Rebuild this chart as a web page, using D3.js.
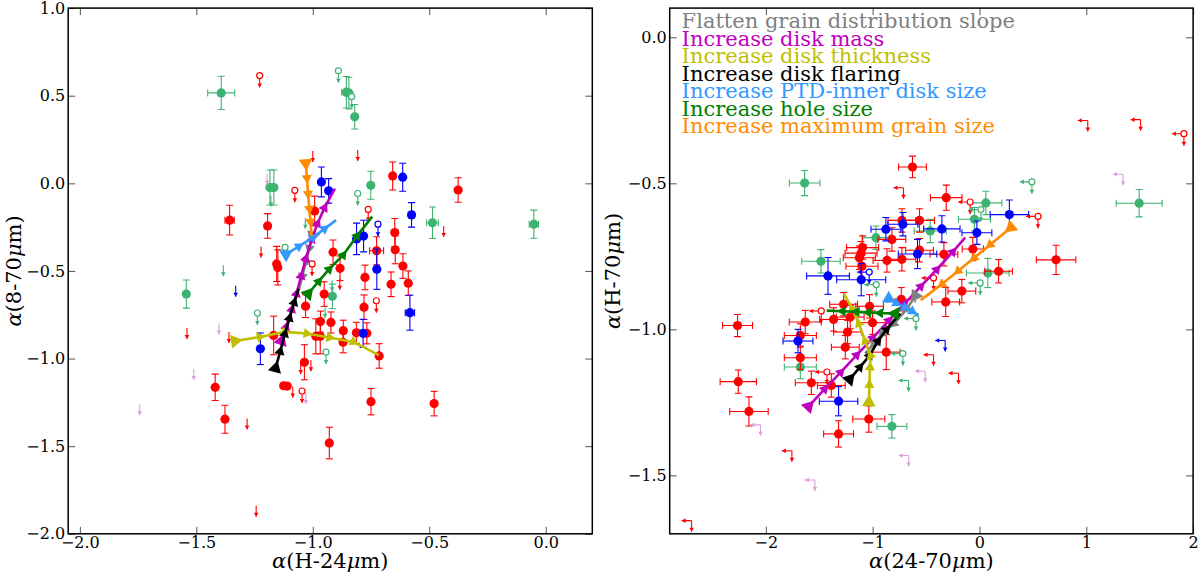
<!DOCTYPE html>
<html>
<head>
<meta charset="utf-8">
<script src="https://cdn.jsdelivr.net/npm/d3@7"></script>
<style>
  body { margin: 0; background: #fff; }
  text { font-family: "DejaVu Serif", serif; }
</style>
</head>
<body>
<div id="chart"></div>
<script>
// ---------- left panel: alpha(H-24) vs alpha(8-70) ----------
// [x, y, xerr, yerr]
const leftRed = [
  [-0.657, 0.042, 0, 0.08], [-0.376, -0.038, 0, 0.07], [-1.357, -0.21, 0.02, 0.085],
  [-1.194, -0.243, 0, 0.07], [-0.992, -0.158, 0, 0.085], [-0.648, -0.281, 0, 0.08],
  [-0.646, -0.379, 0, 0.08], [-0.913, -0.393, 0, 0.07], [-1.155, -0.46, 0, 0.1],
  [-1.15, -0.48, 0, 0.1], [-0.883, -0.485, 0, 0.07], [-0.613, -0.472, 0, 0.07],
  [-0.776, -0.537, 0, 0.07], [-0.664, -0.576, 0, 0.07], [-0.59, -0.57, 0, 0.07],
  [-0.951, -0.632, 0, 0.07], [-0.78, -0.707, 0, 0.07], [-1.031, -0.701, 0, 0.065],
  [-0.967, -0.789, 0, 0.06], [-0.922, -0.794, 0, 0.06], [-0.869, -0.841, 0, 0.06],
  [-0.813, -0.853, 0, 0.06], [-0.768, -0.856, 0, 0.06], [-1.168, -0.868, 0, 0.11],
  [-0.987, -0.873, 0, 0.1], [-0.968, -0.873, 0, 0.1], [-0.87, -0.907, 0, 0.06],
  [-0.715, -0.985, 0, 0.07], [-1.036, -1.021, 0, 0.1], [-1.125, -1.155, 0, 0],
  [-1.11, -1.157, 0, 0], [-1.419, -1.164, 0, 0.075], [-1.377, -1.346, 0, 0.08],
  [-0.75, -1.246, 0, 0.075], [-0.479, -1.257, 0, 0.07], [-0.929, -1.482, 0, 0.09],
  [-0.726, -0.385, 0.03, 0.08]
];
const leftBlue = [
  [-0.963, 0.008, 0, 0.085], [-0.932, -0.043, 0, 0.07], [-0.614, 0.035, 0, 0.08],
  [-0.576, -0.18, 0, 0.07], [-0.812, -0.317, 0, 0.09], [-0.782, -0.301, 0, 0.09],
  [-0.725, -0.49, 0, 0.115], [-0.583, -0.738, 0.02, 0.1], [-1.225, -0.944, 0, 0.09],
  [-0.784, -0.856, 0, 0.08]
];
const leftGreen = [
  [-1.393, 0.516, 0.058, 0.095], [-0.856, 0.52, 0.02, 0.09], [-0.845, 0.515, 0, 0.09],
  [-0.82, 0.38, 0, 0.07], [-1.184, -0.024, 0, 0.1], [-1.167, -0.024, 0, 0.1],
  [-0.751, -0.011, 0, 0.08], [-0.486, -0.225, 0.025, 0.09], [-0.051, -0.233, 0.02, 0.08],
  [-1.543, -0.632, 0, 0.08], [-0.916, -0.645, 0, 0.07]
];
// open circles with an upper-limit arrow: [group, x, y]
const leftOpenLimits = [
  ["red", -1.228, 0.615], ["red", -1.077, -0.04], ["red", -0.762, -0.149],
  ["red", -1.003, -0.46], ["red", -0.727, -0.67], ["red", -1.046, -1.185],
  ["green", -0.89, 0.642], ["green", -0.833, 0.495], ["green", -0.807, -0.058],
  ["green", -1.119, -0.366], ["green", -1.238, -0.74], ["green", -0.943, -0.963],
  ["blue", -0.72, -0.233]
];
// plain upper-limit arrows: [group, x, y]
const leftArrowLimits = [
  ["red", -1.0, 0.185], ["red", -0.807, 0.19], ["red", -0.438, -0.243],
  ["red", -1.222, -0.36], ["red", -1.54, -0.825], ["red", -1.36, -0.848],
  ["red", -0.884, -0.545], ["red", -1.282, -1.342], ["red", -1.243, -1.84],
  ["red", -1.086, -1.16], ["red", -1.052, -1.025], ["red", -1.008, -1.01],
  ["green", -1.384, -0.467], ["green", -1.032, -0.197], ["green", -0.917, -0.553],
  ["green", -0.947, -0.705], ["green", -1.18, -0.07],
  ["blue", -1.331, -0.584],
  ["plum", -1.196, 0.055], ["plum", -1.403, -0.8], ["plum", -1.511, -1.06],
  ["plum", -1.743, -1.26], ["plum", -1.03, -1.196]
];
// model tracks, first point is the starting model
const leftTracks = [
  ["gray", [[-1.0, -0.3], [-1.015, -0.37], [-1.03, -0.45], [-1.045, -0.53], [-1.058, -0.6]]],
  ["magenta", [[-1.135, -0.9], [-1.115, -0.82], [-1.09, -0.72], [-1.07, -0.63], [-1.05, -0.53],
    [-1.03, -0.43], [-1.005, -0.32], [-0.98, -0.23], [-0.95, -0.14], [-0.905, -0.03]]],
  ["yellow", [[-1.334, -0.9], [-1.227, -0.877], [-1.12, -0.848], [-1.026, -0.857],
    [-0.928, -0.88], [-0.826, -0.905], [-0.716, -0.98]]],
  ["black", [[-1.16, -1.055], [-1.14, -0.96], [-1.12, -0.86], [-1.1, -0.77], [-1.08, -0.68], [-1.06, -0.6]]],
  ["ptd", [[-1.115, -0.405], [-1.06, -0.36], [-1.0, -0.31], [-0.95, -0.26], [-0.9, -0.21]]],
  ["hole", [[-1.02, -0.63], [-0.975, -0.56], [-0.93, -0.49], [-0.87, -0.41], [-0.81, -0.3], [-0.745, -0.19]]],
  ["orange", [[-1.03, 0.115], [-1.025, 0.03], [-1.02, -0.06], [-1.015, -0.145], [-1.01, -0.22], [-1.005, -0.3]]]
];

// ---------- right panel: alpha(24-70) vs alpha(H-70) ----------
const rightRed = [
  [-0.627, -0.444, 0.13, 0.037], [-0.311, -0.549, 0.148, 0.043], [0.717, -0.762, 0.185, 0.05],
  [0.179, -0.801, 0.13, 0.04], [-2.265, -0.987, 0.14, 0.038], [-2.258, -1.179, 0.17, 0.04],
  [-2.158, -1.281, 0.18, 0.05], [-1.319, -1.358, 0.14, 0.045], [-1.036, -1.307, 0.15, 0.045],
  [-0.726, -0.627, 0.13, 0.04], [-0.561, -0.627, 0.14, 0.04], [-0.82, -0.692, 0.13, 0.04],
  [-1.094, -0.72, 0.15, 0.04], [-1.109, -0.739, 0.15, 0.04], [-1.125, -0.755, 0.15, 0.04],
  [-1.1, -0.784, 0.15, 0.04], [-0.062, -0.725, 0.1, 0.04], [-0.561, -0.729, 0.13, 0.04],
  [-0.333, -0.743, 0.13, 0.04], [-0.726, -0.76, 0.13, 0.04], [-0.866, -0.764, 0.13, 0.04],
  [-0.165, -0.869, 0.13, 0.04], [-0.316, -0.906, 0.13, 0.05], [-0.732, -0.897, 0.13, 0.04],
  [-1.029, -0.921, 0.13, 0.04], [-1.272, -0.914, 0.13, 0.04], [-1.366, -0.966, 0.13, 0.04],
  [-1.631, -0.975, 0.15, 0.04], [-1.21, -0.958, 0.13, 0.04], [-1.001, -0.977, 0.13, 0.04],
  [-1.235, -1.009, 0.13, 0.04], [-1.677, -1.021, 0.15, 0.04], [-1.256, -1.061, 0.13, 0.04],
  [-0.873, -1.078, 0.13, 0.06], [-1.677, -1.097, 0.15, 0.04], [-1.574, -1.183, 0.15, 0.04],
  [-1.387, -1.192, 0.13, 0.04]
];
const rightBlue = [
  [0.28, -0.607, 0.18, 0.05], [-0.024, -0.669, 0.14, 0.04], [-0.352, -0.656, 0.17, 0.045],
  [-0.717, -0.64, 0.14, 0.04], [-0.876, -0.657, 0.14, 0.04], [-0.58, -0.742, 0.18, 0.05],
  [-1.418, -0.817, 0.2, 0.063], [-1.107, -0.83, 0.23, 0.055], [-1.699, -1.04, 0.14, 0.04],
  [-1.319, -1.246, 0.18, 0.05]
];
const rightGreen = [
  [-1.637, -0.499, 0.143, 0.043], [1.495, -0.568, 0.215, 0.047], [0.06, -0.567, 0.15, 0.04],
  [-0.047, -0.623, 0.15, 0.04], [-0.461, -0.663, 0.15, 0.04], [-0.969, -0.686, 0.13, 0.04],
  [-1.484, -0.767, 0.18, 0.04], [0.078, -0.807, 0.2, 0.05], [-1.677, -1.129, 0.15, 0.04],
  [-0.82, -1.332, 0.14, 0.04]
];
// upper limits in both colours: [group, x, y, open circle?]
const rightLimits = [
  ["red", 1.014, -0.285, 0], ["red", 1.509, -0.282, 0], ["red", -0.711, -0.515, 0],
  ["red", -2.695, -1.655, 0], ["red", -1.756, -1.416, 0], ["red", -0.43, -1.087, 0],
  ["red", -0.196, -1.15, 0],
  ["red", 1.914, -0.33, 1], ["red", -0.087, -0.564, 1], ["red", 0.548, -0.613, 1],
  ["red", -1.481, -0.937, 1], ["red", -0.43, -0.824, 1], ["red", -1.428, -1.146, 1],
  ["blue", -0.321, -1.038, 0], ["blue", -1.032, -0.804, 1],
  ["plum", 1.344, -0.469, 0], ["plum", -2.05, -1.327, 0], ["plum", -0.508, -1.143, 0],
  ["plum", -0.663, -1.432, 0], ["plum", -1.541, -1.516, 0],
  ["green", -0.664, -1.175, 0],
  ["green", 0.491, -0.495, 1], ["green", 0.013, -0.59, 1], ["green", 0.007, -0.841, 1],
  ["green", -0.966, -0.847, 1], ["green", -0.595, -0.963, 1], ["green", -0.717, -1.083, 1]
];
const rightTracks = [
  ["magenta", [[-1.6, -1.264], [-1.45, -1.205], [-1.3, -1.147], [-1.15, -1.088], [-1.0, -1.03],
    [-0.85, -0.97], [-0.7, -0.912], [-0.55, -0.853], [-0.4, -0.795], [-0.25, -0.735], [-0.134, -0.686]]],
  ["orange", [[0.294, -0.651], [0.1, -0.71], [-0.05, -0.755], [-0.2, -0.8], [-0.35, -0.845], [-0.55, -0.9]]],
  ["gray", [[-0.6, -0.885], [-0.68, -0.93], [-0.8, -0.98], [-0.91, -1.015], [-0.99, -1.05], [-1.07, -1.083]]],
  ["black", [[-1.216, -1.171], [-1.12, -1.13], [-1.03, -1.09], [-0.95, -1.04], [-0.87, -1.0], [-0.742, -0.946]]],
  ["yellow", [[-1.035, -1.25], [-1.03, -1.19], [-1.025, -1.13], [-1.02, -1.09], [-1.07, -1.04],
    [-1.13, -0.98], [-1.19, -0.93], [-1.27, -0.878]]],
  ["ptd", [[-0.85, -0.895], [-0.78, -0.91], [-0.7, -0.925], [-0.63, -0.938], [-0.57, -0.952]]],
  ["hole", [[-0.79, -0.946], [-0.93, -0.944], [-1.04, -0.942], [-1.15, -0.94], [-1.28, -0.938], [-1.43, -0.936]]]
];

const legendLabels = [
  ["gray", "Flatten grain distribution slope"],
  ["magenta", "Increase disk mass"],
  ["yellow", "Increase disk thickness"],
  ["black", "Increase disk flaring"],
  ["ptd", "Increase PTD-inner disk size"],
  ["hole", "Increase hole size"],
  ["orange", "Increase maximum grain size"]
];

const leftXTicks = [-2.0, -1.5, -1.0, -0.5, 0.0];
const leftYTicks = [1.0, 0.5, 0.0, -0.5, -1.0, -1.5, -2.0];
const rightXTicks = [-2, -1, 0, 1, 2];
const rightYTicks = [0.0, -0.5, -1.0, -1.5];

// ---------- styles ----------
const colors = {
  red: "#ff0000", blue: "#0000ff", green: "#3cb371", plum: "#dda0dd",
  gray: "#808080", magenta: "#bf00bf", yellow: "#bfbf00", black: "#000000",
  ptd: "#3399ff", hole: "#008000", orange: "#ff8c00"
};

const svg = d3.select("#chart").append("svg")
  .attr("width", 1200).attr("height", 575);

function makePanel(o) {
  const x = d3.scaleLinear().domain(o.xDomain).range([o.left, o.right]);
  const y = d3.scaleLinear().domain(o.yDomain).range([o.bottom, o.top]);
  const g = svg.append("g");

  svg.append("clipPath").attr("id", o.id)
    .append("rect")
    .attr("x", o.left).attr("y", o.top)
    .attr("width", o.right - o.left).attr("height", o.bottom - o.top);
  const plot = g.append("g").attr("clip-path", `url(#${o.id})`);

  // axes with inward ticks on all four sides
  const axes = [
    [d3.axisBottom(x).tickValues(o.xTicks).tickFormat(o.xFmt), `translate(0,${o.bottom})`],
    [d3.axisTop(x).tickValues(o.xTicks).tickFormat(""), `translate(0,${o.top})`],
    [d3.axisLeft(y).tickValues(o.yTicks).tickFormat(o.yFmt), `translate(${o.left},0)`],
    [d3.axisRight(y).tickValues(o.yTicks).tickFormat(""), `translate(${o.right},0)`]
  ];
  axes.forEach(([ax, tr]) => {
    const a = g.append("g").attr("transform", tr)
      .call(ax.tickSize(-7).tickPadding(3));
    a.select(".domain").remove();
    a.selectAll(".tick line").attr("stroke", "#555").attr("stroke-width", 1);
    a.selectAll("text")
      .style("font-family", "DejaVu Serif")
      .style("font-size", "16px")
      .attr("fill", "#000");
  });

  g.append("rect")
    .attr("x", o.left).attr("y", o.top)
    .attr("width", o.right - o.left).attr("height", o.bottom - o.top)
    .attr("fill", "none").attr("stroke", "#000").attr("stroke-width", 1.5);

  // axis labels with italic greek letters
  const xl = g.append("text")
    .attr("x", (o.left + o.right) / 2).attr("y", 568)
    .attr("text-anchor", "middle").style("font-size", "21px");
  o.xLabel.forEach(([t, it]) => xl.append("tspan").text(t).attr("font-style", it ? "italic" : null));
  const yl = g.append("text")
    .attr("transform", `translate(${o.left - o.yLabelOffset},${(o.top + o.bottom) / 2}) rotate(-90)`)
    .attr("text-anchor", "middle").style("font-size", "21px");
  o.yLabel.forEach(([t, it]) => yl.append("tspan").text(t).attr("font-style", it ? "italic" : null));

  return { x, y, g, plot };
}

function errorPoints(p, data, group) {
  const c = colors[group];
  const gg = p.plot.append("g").attr("stroke", c).attr("fill", c).attr("stroke-width", 1.1);
  data.forEach(([vx, vy, xe, ye]) => {
    const cx = p.x(vx), cy = p.y(vy);
    if (ye) {
      const y0 = p.y(vy - ye), y1 = p.y(vy + ye);
      gg.append("line").attr("x1", cx).attr("x2", cx).attr("y1", y0).attr("y2", y1);
      [y0, y1].forEach(v => gg.append("line")
        .attr("x1", cx - 3.5).attr("x2", cx + 3.5).attr("y1", v).attr("y2", v));
    }
    if (xe) {
      const x0 = p.x(vx - xe), x1 = p.x(vx + xe);
      gg.append("line").attr("x1", x0).attr("x2", x1).attr("y1", cy).attr("y2", cy);
      [x0, x1].forEach(v => gg.append("line")
        .attr("x1", v).attr("x2", v).attr("y1", cy - 3.5).attr("y2", cy + 3.5));
    }
    gg.append("circle").attr("cx", cx).attr("cy", cy).attr("r", 4.6).attr("stroke", "none");
  });
}

function arrowDown(sel, cx, y0, len, c) {
  sel.append("line").attr("x1", cx).attr("x2", cx).attr("y1", y0).attr("y2", y0 + len)
    .attr("stroke", c).attr("stroke-width", 1.1);
  sel.append("path")
    .attr("d", `M${cx - 2.3},${y0 + len - 4}L${cx + 2.3},${y0 + len - 4}L${cx},${y0 + len}Z`)
    .attr("fill", c);
}
function arrowLeft(sel, x0, cy, len, c) {
  sel.append("line").attr("x1", x0).attr("x2", x0 - len).attr("y1", cy).attr("y2", cy)
    .attr("stroke", c).attr("stroke-width", 1.1);
  sel.append("path")
    .attr("d", `M${x0 - len + 4},${cy - 2.3}L${x0 - len + 4},${cy + 2.3}L${x0 - len},${cy}Z`)
    .attr("fill", c);
}

function tracks(p, list) {
  const line = d3.line().x(d => p.x(d[0])).y(d => p.y(d[1]));
  list.forEach(([key, pts]) => {
    const c = colors[key];
    const gg = p.plot.append("g");
    gg.append("path").datum(pts).attr("d", line)
      .attr("fill", "none").attr("stroke", c).attr("stroke-width", 2.6);
    // a triangle at every model but the last, pointing to the next one
    for (let i = 0; i < pts.length - 1; i++) {
      const ax = p.x(pts[i][0]), ay = p.y(pts[i][1]);
      const bx = p.x(pts[i + 1][0]), by = p.y(pts[i + 1][1]);
      const ang = Math.atan2(by - ay, bx - ax) * 180 / Math.PI + 90;
      gg.append("path")
        .attr("d", d3.symbol(d3.symbolTriangle, i === 0 ? 80 : 45)())
        .attr("transform", `translate(${ax},${ay}) rotate(${ang})`)
        .attr("fill", c);
    }
  });
}

// ---------- left panel ----------
const L = makePanel({
  id: "clipL", left: 68.2, right: 592.3, top: 8.1, bottom: 533.8,
  xDomain: [-2.05, 0.2], yDomain: [-2, 1],
  xTicks: leftXTicks, yTicks: leftYTicks,
  xFmt: d3.format(".1f"), yFmt: d3.format(".1f"),
  yLabelOffset: 47,
  xLabel: [["α", 1], ["(H-24", 0], ["μ", 1], ["m)", 0]],
  yLabel: [["α", 1], ["(8-70", 0], ["μ", 1], ["m)", 0]]
});

errorPoints(L, leftGreen, "green");
errorPoints(L, leftRed, "red");
errorPoints(L, leftBlue, "blue");

const lLim = L.plot.append("g");
leftArrowLimits.forEach(([grp, vx, vy]) => {
  arrowDown(lLim, L.x(vx), L.y(vy), 11, colors[grp]);
});
leftOpenLimits.forEach(([grp, vx, vy]) => {
  const c = colors[grp], cx = L.x(vx), cy = L.y(vy);
  lLim.append("circle").attr("cx", cx).attr("cy", cy).attr("r", 3)
    .attr("fill", "#fff").attr("stroke", c).attr("stroke-width", 1.2);
  arrowDown(lLim, cx, cy + 3, 9, c);
});
tracks(L, leftTracks);

// ---------- right panel ----------
const R = makePanel({
  id: "clipR", left: 669.7, right: 1193.1, top: 8.1, bottom: 533.8,
  xDomain: [-2.9, 2], yDomain: [-1.7, 0.1],
  xTicks: rightXTicks, yTicks: rightYTicks,
  xFmt: d3.format("d"), yFmt: d3.format(".1f"),
  yLabelOffset: 50,
  xLabel: [["α", 1], ["(24-70", 0], ["μ", 1], ["m)", 0]],
  yLabel: [["α", 1], ["(H-70", 0], ["μ", 1], ["m)", 0]]
});

errorPoints(R, rightGreen, "green");
errorPoints(R, rightRed, "red");
errorPoints(R, rightBlue, "blue");

const rLim = R.plot.append("g");
rightLimits.forEach(([grp, vx, vy, open]) => {
  const c = colors[grp], cx = R.x(vx), cy = R.y(vy);
  if (open) {
    rLim.append("circle").attr("cx", cx).attr("cy", cy).attr("r", 3)
      .attr("fill", "#fff").attr("stroke", c).attr("stroke-width", 1.2);
    arrowDown(rLim, cx, cy + 3, 9, c);
    arrowLeft(rLim, cx - 3, cy, 9, c);
  } else {
    arrowDown(rLim, cx, cy, 11, c);
    arrowLeft(rLim, cx, cy, 10, c);
  }
});
tracks(R, rightTracks);

// legend text, stacked tightly as in the original
R.g.append("g").selectAll("text")
  .data(legendLabels)
  .join("text")
  .attr("x", 681.6)
  .attr("y", (d, i) => 28.4 + i * 17.5)
  .attr("fill", d => colors[d[0]])
  .style("font-size", "21px")
  .text(d => d[1]);
</script>
</body>
</html>
